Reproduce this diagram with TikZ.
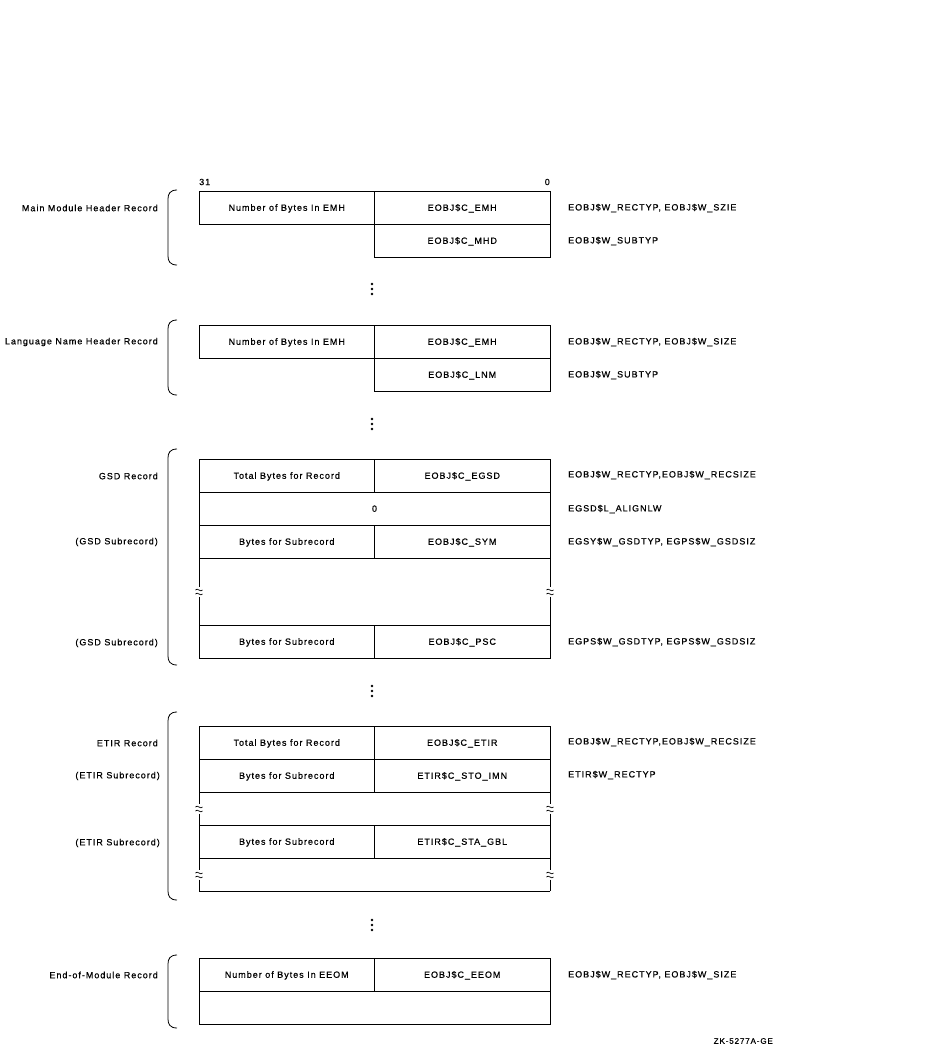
\documentclass[tikz,border=0pt]{standalone}
\usepackage{fontspec}
\setmainfont{Liberation Sans}
\newfontfamily\dgfont[LetterSpace=11,FakeBold=0.6]{Liberation Sans}
\usetikzlibrary{calc}
\usetikzlibrary{positioning}
\newcommand{\TS}{\fontsize{9}{10}\dgfont}
\newcommand{\lw}{0.8pt}
\newcommand{\RecBrace}[2]{\draw[line width=\lw] (177,#1) .. controls (170,#1) and (168,#1+4) .. (168,#1+9) -- (168,#2-9) .. controls (168,#2-4) and (170,#2) .. (177,#2);}
\newcommand{\VDots}[1]{\foreach \d in {-5,0,5} \fill (372,#1+\d) circle (1.3pt);}
\newcommand{\BrkSide}[2]{\draw[line width=\lw] (#1) -- ($(#1)!0.5!(#2)+(0,-5)$) ($(#1)!0.5!(#2)+(0,5)$) -- (#2);
                     \path ($(#1)!0.5!(#2)$) coordinate (bk);
                     \begin{scope}[shift={(bk)},line width=0.7pt]
                        \draw (-3.5,-1.5) .. controls (-1.5,-4.5) and (1.5,1.5) .. (3.5,-1.5);
                        \draw (-3.5,2.5) .. controls (-1.5,-0.5) and (1.5,5.5) .. (3.5,2.5);
                     \end{scope}}
\tikzset{
    cell/.style={draw,line width=\lw,minimum width=175.5pt,minimum height=33pt,inner sep=0pt,outer sep=0pt,
                 text height=6.5pt,text depth=0pt,font=\TS},
    wcell/.style={cell,minimum width=351pt},
    reclbl/.style={anchor=east,inner sep=0pt,font=\TS},
    fldlbl/.style={anchor=west,inner sep=0pt,font=\TS}
}
\begin{document}
\begin{tikzpicture}[x=1pt,y=-1pt]
    \useasboundingbox (0,0) rectangle (929,1050);

    % main module header
    \node[anchor=west,inner sep=0pt,font=\TS] (bhi) at (199,182) {31};
    \node[anchor=east,inner sep=0pt,font=\TS] (blo) at (550,182) {0};
    \node[cell] (mh1) at (286.75,207.5) {Number of Bytes In EMH};
    \node[cell] (mh2) at (462.25,207.5) {EOBJ\$C\_EMH};
    \node[cell] (mh3) at (462.25,240.5) {EOBJ\$C\_MHD};
    \node[reclbl] (mhl) at (158,208) {Main Module Header Record};
    \node[fldlbl] (mhf1) at (568,208) {EOBJ\$W\_RECTYP, EOBJ\$W\_SZIE};
    \node[fldlbl] (mhf2) at (568,241) {EOBJ\$W\_SUBTYP};
    \RecBrace{190}{265}
    \VDots{289}

    % language name header
    \node[cell] (ln1) at (286.75,341.5) {Number of Bytes In EMH};
    \node[cell] (ln2) at (462.25,341.5) {EOBJ\$C\_EMH};
    \node[cell] (ln3) at (462.25,374.5) {EOBJ\$C\_LNM};
    \node[reclbl] (lnl) at (158,342) {Language Name Header Record};
    \node[fldlbl] (lnf1) at (568,342) {EOBJ\$W\_RECTYP, EOBJ\$W\_SIZE};
    \node[fldlbl] (lnf2) at (568,375) {EOBJ\$W\_SUBTYP};
    \RecBrace{320}{395}
    \VDots{424}

    % GSD record
    \node[cell] (gs1) at (286.75,475.5) {Total Bytes for Record};
    \node[cell] (gs2) at (462.25,475.5) {EOBJ\$C\_EGSD};
    \node[wcell] (gs3) at (374.5,508.5) {0};
    \node[cell] (gs4) at (286.75,541.5) {Bytes for Subrecord};
    \node[cell] (gs5) at (462.25,541.5) {EOBJ\$C\_SYM};
    \node[cell] (gs6) at (286.75,641.5) {Bytes for Subrecord};
    \node[cell] (gs7) at (462.25,641.5) {EOBJ\$C\_PSC};
    \BrkSide{gs4.south west}{gs6.north west}
    \BrkSide{gs5.south east}{gs7.north east}
    \node[reclbl] (gsl1) at (158,476) {GSD Record};
    \node[reclbl] (gsl2) at (158,542) {(GSD Subrecord)};
    \node[reclbl] (gsl3) at (158,643) {(GSD Subrecord)};
    \node[fldlbl] (gsf1) at (568,475) {EOBJ\$W\_RECTYP,EOBJ\$W\_RECSIZE};
    \node[fldlbl] (gsf2) at (568,509) {EGSD\$L\_ALIGNLW};
    \node[fldlbl] (gsf3) at (568,542) {EGSY\$W\_GSDTYP, EGPS\$W\_GSDSIZ};
    \node[fldlbl] (gsf4) at (568,642) {EGPS\$W\_GSDTYP, EGPS\$W\_GSDSIZ};
    \RecBrace{449}{665}
    \VDots{691}

    % ETIR record
    \node[cell] (et1) at (286.75,742.5) {Total Bytes for Record};
    \node[cell] (et2) at (462.25,742.5) {EOBJ\$C\_ETIR};
    \node[cell] (et3) at (286.75,775.5) {Bytes for Subrecord};
    \node[cell] (et4) at (462.25,775.5) {ETIR\$C\_STO\_IMN};
    \node[cell] (et5) at (286.75,841.5) {Bytes for Subrecord};
    \node[cell] (et6) at (462.25,841.5) {ETIR\$C\_STA\_GBL};
    \coordinate (etbl) at (199,891);
    \coordinate (etbr) at (550,891);
    \draw[line width=\lw] (etbl) -- (etbr);
    \BrkSide{et3.south west}{et5.north west}
    \BrkSide{et4.south east}{et6.north east}
    \BrkSide{et5.south west}{etbl}
    \BrkSide{et6.south east}{etbr}
    \node[reclbl] (etl1) at (158,743) {ETIR Record};
    \node[reclbl] (etl2) at (160,776) {(ETIR Subrecord)};
    \node[reclbl] (etl3) at (160,843) {(ETIR Subrecord)};
    \node[fldlbl] (etf1) at (568,742) {EOBJ\$W\_RECTYP,EOBJ\$W\_RECSIZE};
    \node[fldlbl] (etf2) at (568,775) {ETIR\$W\_RECTYP};
    \RecBrace{712}{900}
    \VDots{925}

    % end of module
    \node[cell] (em1) at (286.75,974.5) {Number of Bytes In EEOM};
    \node[cell] (em2) at (462.25,974.5) {EOBJ\$C\_EEOM};
    \node[wcell] (em3) at (374.5,1007.5) {};
    \node[reclbl] (eml) at (158,975) {End-of-Module Record};
    \node[fldlbl] (emf1) at (568,975) {EOBJ\$W\_RECTYP, EOBJ\$W\_SIZE};
    \RecBrace{955}{1028}

    \node[anchor=east,inner sep=0pt,font=\fontsize{8}{9}\dgfont] (fig) at (773,1041) {ZK-5277A-GE};
\end{tikzpicture}
\end{document}
